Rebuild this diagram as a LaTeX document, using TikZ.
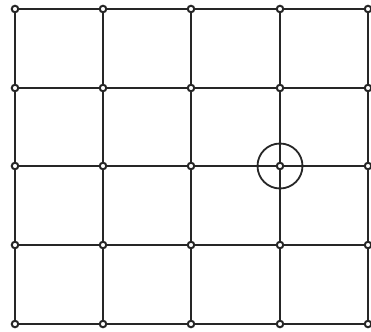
\documentclass[tikz,border=0pt]{standalone}
\begin{document}
\begin{tikzpicture}[x=1pt,y=-1pt,
  gridline/.style={line width=2pt,draw=black!85},
  dot/.style={circle,draw=black!85,line width=2pt,fill=white,minimum size=6.5pt,inner sep=0pt},
  ring/.style={circle,draw=black!85,line width=1.8pt,minimum size=45pt,inner sep=0pt}]
\useasboundingbox (0,0) rectangle (371,331);
\foreach \i/\x in {0/15,1/103,2/191,3/280,4/368}{
  \foreach \j/\y in {0/9,1/88,2/166,3/245,4/324}{
    \coordinate (p\i\j) at (\x,\y);
  }
}
\foreach \i in {0,...,4}{
  \draw[gridline] (p\i0) -- (p\i4);
  \draw[gridline] (p0\i) -- (p4\i);
}
\foreach \i in {0,...,4}{
  \foreach \j in {0,...,4}{
    \node[dot] (d\i\j) at (p\i\j) {};
  }
}
\node[ring] (r) at (p32) {};
\end{tikzpicture}
\end{document}
